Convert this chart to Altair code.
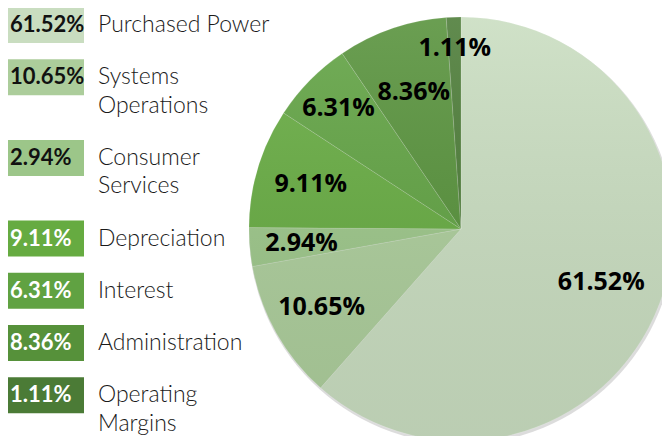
import altair as alt
import pandas as pd

# ---- data ----
categories = ["Purchased Power", "Systems Operations", "Consumer Services",
              "Depreciation", "Interest", "Administration", "Operating Margins"]
values = [61.52, 10.65, 2.94, 9.11, 6.31, 8.36, 1.11]
legend_lines = [["Purchased Power"], ["Systems", "Operations"], ["Consumer", "Services"],
                ["Depreciation"], ["Interest"], ["Administration"], ["Operating", "Margins"]]
colors = ["#c9ddc0", "#accd9b", "#9cc689", "#66ab41", "#60a242", "#56913a", "#4b7b36"]

# ---- layout constants (pixels) ----
LINE_PX = 28.5
GAP_UNITS = 23.7 / LINE_PX
BOX_UNITS = 36.0 / LINE_PX
CX, CY, R = 453, 221, 212
# distance of each in-pie label from the pie centre (layout, not data)
LABEL_RADIUS = {"Purchased Power": 150, "Systems Operations": 160, "Consumer Services": 160,
                "Depreciation": 157, "Interest": 172, "Administration": 145,
                "Operating Margins": 181}


def is_dark(hex_color):
    h = hex_color.lstrip("#")
    r, g, b = (int(h[i:i + 2], 16) for i in (0, 2, 4))
    return (0.299 * r + 0.587 * g + 0.114 * b) < 170


pct_text = [f"{v:.2f}%" for v in values]
total = sum(values)

pie_df = pd.DataFrame({
    "category": categories,
    "value": values,
    "order": list(range(len(categories))),
    "pct": pct_text,
    "lr": [LABEL_RADIUS[c] for c in categories],
})

rows, line_rows = [], []
slot = 0.0
for i, cat in enumerate(categories):
    rows.append({"category": cat, "slot": slot, "slot_end": slot + BOX_UNITS,
                 "mid": slot + BOX_UNITS / 2, "pct": pct_text[i], "dark": is_dark(colors[i])})
    for k, txt in enumerate(legend_lines[i]):
        line_rows.append({"line": txt, "y": slot + BOX_UNITS / 2 + k})
    slot += len(legend_lines[i]) + GAP_UNITS
leg_df = pd.DataFrame(rows)
lines_df = pd.DataFrame(line_rows)

color_scale = alt.Scale(domain=categories, range=colors)
y_scale = alt.Scale(domain=[0, 14], range=[-1, -1 + 14 * LINE_PX], nice=False, zero=False)
theta_scale = alt.Scale(domain=[0, total], range=[0, 6.283185307])

shadow = alt.Chart(alt.Data(values=[{"a": 1}])).mark_arc(
    radius=R + 1, theta=0, theta2=6.2832, fill="#9a9a9a", opacity=0.35
).encode(x=alt.value(CX + 1), y=alt.value(CY + 2))

pie_base = alt.Chart(pie_df).transform_window(
    cum="sum(value)", sort=[alt.SortField("order")], frame=[None, 0]
).transform_calculate(
    start="datum.cum - datum.value",
    midv="datum.cum - datum.value / 2",
)

arcs = pie_base.mark_arc(radius=R, stroke="#ffffff", strokeOpacity=0.25, strokeWidth=0.6).encode(
    theta=alt.Theta("start:Q", scale=theta_scale, stack=False),
    theta2="cum:Q",
    x=alt.value(CX), y=alt.value(CY),
    color=alt.Color("category:N", scale=color_scale, legend=None),
)

overlay = alt.Chart(alt.Data(values=[{"a": 1}])).mark_arc(
    radius=R, theta=0, theta2=6.2832,
    fill=alt.LinearGradient(
        gradient="linear",
        stops=[alt.GradientStop(color="rgba(255,255,255,0.12)", offset=0),
               alt.GradientStop(color="rgba(0,0,0,0.07)", offset=1)],
        x1=0, x2=0, y1=0, y2=1,
    ),
).encode(x=alt.value(CX), y=alt.value(CY))

pie_text = pie_base.mark_text(
    font="Open Sans", fontWeight="bold", fontSize=25,
    align="center", baseline="middle", color="#000000"
).encode(
    theta=alt.Theta("midv:Q", scale=theta_scale, stack=False),
    radius=alt.Radius("lr:Q", scale=None, stack=False),
    x=alt.value(CX), y=alt.value(CY),
    text="pct:N",
)

boxes = alt.Chart(leg_df).mark_rect().encode(
    x=alt.value(0), x2=alt.value(76),
    y=alt.Y("slot:Q", scale=y_scale, axis=None),
    y2="slot_end:Q",
    color=alt.Color("category:N", scale=color_scale, legend=None),
)

box_text = alt.Chart(leg_df).mark_text(
    font="Lato", fontWeight="bold", fontSize=22, align="left", baseline="middle"
).encode(
    x=alt.value(2),
    y=alt.Y("mid:Q", scale=y_scale, axis=None),
    text="pct:N",
    color=alt.condition("datum.dark", alt.value("#ffffff"), alt.value("#111111")),
)

labels = alt.Chart(lines_df).mark_text(
    font="Lato", fontWeight=300, fontSize=23, align="left", baseline="middle", color="#1a1a1a"
).encode(
    x=alt.value(90),
    y=alt.Y("y:Q", scale=y_scale, axis=None),
    text="line:N",
)

chart = alt.layer(shadow, arcs, overlay, pie_text, boxes, box_text, labels).properties(
    width=654, height=428,
    autosize=alt.AutoSizeParams(type="none"),
    padding=0,
).resolve_scale(theta="shared").configure_view(stroke=None)

chart.save("out.html", embed_options={"renderer": "svg", "actions": False})
